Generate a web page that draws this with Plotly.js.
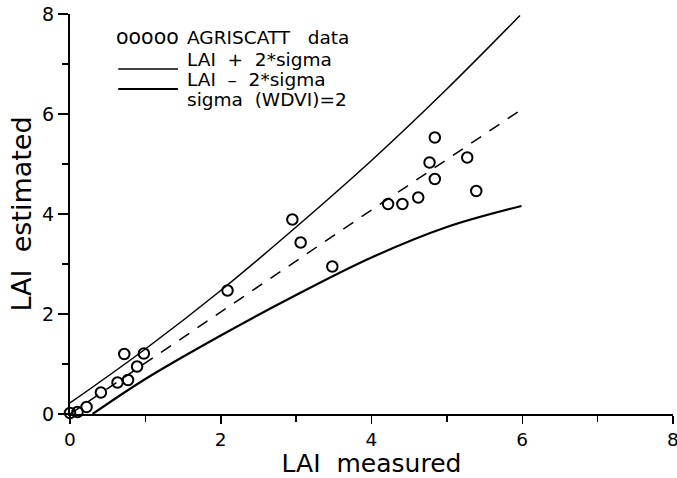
<!DOCTYPE html>
<html>
<head>
<meta charset="utf-8">
<script src="https://cdn.plot.ly/plotly-3.0.1.min.js"></script>
<style>
  html, body { margin: 0; padding: 0; background: #fff; }
  #chart { width: 677px; height: 478px; }
</style>
</head>
<body>
<div id="chart"></div>
<script>
// AGRISCATT measured vs estimated LAI
const measuredLAI  = [0.00, 0.10, 0.22, 0.41, 0.63, 0.77, 0.89, 0.72, 0.98, 2.09, 2.95, 3.06, 3.48, 4.22, 4.41, 4.62, 4.77, 4.84, 4.84, 5.27, 5.39];
const estimatedLAI = [0.02, 0.04, 0.14, 0.43, 0.63, 0.68, 0.95, 1.20, 1.21, 2.47, 3.89, 3.43, 2.95, 4.20, 4.20, 4.33, 5.03, 5.53, 4.70, 5.13, 4.46];

// LAI + 2*sigma curve
const upperX = [0.00, 1.00, 2.00, 3.00, 4.00, 5.00, 5.97];
const upperY = [0.22, 1.30, 2.47, 3.74, 5.07, 6.50, 7.97];

// LAI - 2*sigma curve
const lowerX = [0.30, 1.00, 2.00, 3.00, 4.00, 5.00, 5.99];
const lowerY = [0.00, 0.70, 1.57, 2.38, 3.13, 3.74, 4.16];

// estimate line (dashed)
const midX = [0.00, 2.00, 4.00, 5.95];
const midY = [0.00, 2.04, 4.08, 6.05];

const tickVals = [0, 2, 4, 6, 8];
const tickText = ['0', '2', '4', '6', '8'];

const NB = '\u00a0';
const legendSample = ['ooooo', '', '', ''];
const legendText = [
  'AGRISCATT' + NB + NB + NB + 'data',
  'LAI' + NB + NB + '+' + NB + NB + '2*sigma',
  'LAI' + NB + NB + '\u2013' + NB + NB + '2*sigma',
  'sigma' + NB + NB + '(WDVI)=2'
];

const FONT = 'DejaVu Sans, sans-serif';

const traces = [
  {
    x: upperX, y: upperY, type: 'scatter', mode: 'lines',
    line: { color: '#000', width: 1.5, shape: 'spline', smoothing: 1 },
    cliponaxis: false, showlegend: false, hoverinfo: 'skip'
  },
  {
    x: lowerX, y: lowerY, type: 'scatter', mode: 'lines',
    line: { color: '#000', width: 2.2, shape: 'spline', smoothing: 1 },
    cliponaxis: false, showlegend: false, hoverinfo: 'skip'
  },
  {
    x: midX, y: midY, type: 'scatter', mode: 'lines',
    line: { color: '#000', width: 1.5, dash: '12px,10px' },
    cliponaxis: false, showlegend: false, hoverinfo: 'skip'
  },
  {
    x: measuredLAI, y: estimatedLAI, type: 'scatter', mode: 'markers',
    marker: { symbol: 'circle-open', size: 10.5, color: '#000', line: { color: '#000', width: 2 } },
    cliponaxis: false, showlegend: false
  }
];

// Legend drawn as text rows (paper coordinates)
const rowY = [0.942, 0.886, 0.836, 0.786];
const annotations = [];
legendText.forEach((t, i) => {
  annotations.push({
    xref: 'paper', yref: 'paper', x: 0.193, y: rowY[i],
    xanchor: 'left', yanchor: 'middle', showarrow: false, borderpad: 0,
    text: t, font: { family: FONT, size: 18.5, color: '#000' }
  });
  if (legendSample[i]) {
    annotations.push({
      xref: 'paper', yref: 'paper', x: 0.183, y: rowY[i],
      xanchor: 'right', yanchor: 'middle', showarrow: false, borderpad: 0,
      text: legendSample[i], font: { family: FONT, size: 20.5, color: '#000' }
    });
  }
});

const shapes = [
  { type: 'line', xref: 'paper', yref: 'paper', x0: 0.080, x1: 0.179, y0: 0.8625, y1: 0.8625, line: { color: '#000', width: 1.5 } },
  { type: 'line', xref: 'paper', yref: 'paper', x0: 0.080, x1: 0.179, y0: 0.8125, y1: 0.8125, line: { color: '#000', width: 2.2 } }
];

const axisCommon = {
  range: [0, 8],
  tickmode: 'array', tickvals: tickVals, ticktext: tickText,
  ticks: 'outside', tickcolor: '#000', tickwidth: 1.5,
  showline: true, linecolor: '#000', linewidth: 2,
  showgrid: false, zeroline: false,
  ticklabeloverflow: 'allow',
  tickfont: { family: FONT, size: 19, color: '#000' },
  minor: { dtick: 1, tick0: 0, ticks: 'outside', ticklen: 6, tickcolor: '#000', tickwidth: 1.5, showgrid: false },
  fixedrange: true
};

const layout = {
  width: 677, height: 478,
  margin: { l: 70, r: 4, t: 14, b: 64 },
  paper_bgcolor: '#fff', plot_bgcolor: '#fff',
  showlegend: false,
  xaxis: Object.assign({}, axisCommon, {
    ticklen: 8,
    tickfont: { family: FONT, size: 18.5, color: '#000' },
    title: { text: 'LAI' + NB + NB + 'measured', font: { family: FONT, size: 25, color: '#000' }, standoff: 17 }
  }),
  yaxis: Object.assign({}, axisCommon, {
    ticklen: 10,
    title: { text: 'LAI' + NB + NB + 'estimated', font: { family: FONT, size: 27, color: '#000' }, standoff: 3 }
  }),
  annotations: annotations,
  shapes: shapes
};

Plotly.newPlot('chart', traces, layout, { displayModeBar: false, staticPlot: true });
</script>
</body>
</html>
